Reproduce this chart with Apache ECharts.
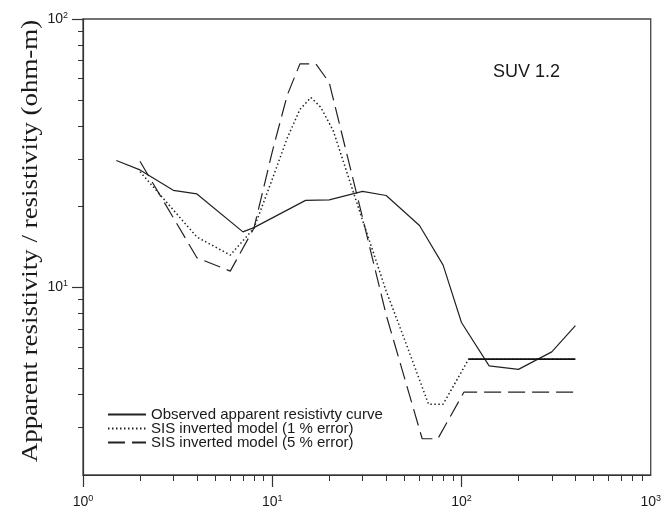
<!DOCTYPE html>
<html>
<head>
<meta charset="utf-8">
<script src="https://cdn.jsdelivr.net/npm/echarts@6/dist/echarts.min.js"></script>
<style>
html,body{margin:0;padding:0;background:#fff;}
#chart{width:664px;height:510px;}
</style>
</head>
<body>
<div id="chart"></div>
<script>
// ---- data ----
const obsX = [1.5, 2, 3, 4, 7, 8, 15, 20, 30, 40, 60, 80, 100, 140, 200, 300, 400];
const obsY = [29.7, 27.4, 23.0, 22.3, 16.1, 16.7, 21.1, 21.2, 22.8, 22.0, 17.0, 12.1, 7.4, 5.1, 4.95, 5.75, 7.2];

const dotX = [2, 4, 6, 8, 10, 12, 14, 16, 18, 21, 30, 40, 50, 67, 80, 109, 400];
const dotY = [27, 15.4, 13.2, 16.6, 25.3, 36, 46, 51, 47, 38.4, 17.8, 9.7, 6.4, 3.67, 3.67, 5.4, 5.4];

const dashX = [2, 4, 6, 8, 10, 12, 14, 17, 20, 30, 40, 50, 62, 75, 103, 400];
const dashY = [29.5, 12.9, 11.5, 16.6, 32, 52, 68, 68, 58, 18.2, 7.9, 4.6, 2.73, 2.73, 4.07, 4.07];

const seriesNames = ['Observed apparent resistivty curve', 'SIS inverted model (1 % error)', 'SIS inverted model (5 % error)'];
const yTitle = 'Apparent resistivity / resistivity (ohm-m)';
const panelLabel = 'SUV 1.2';

const xRange = [1, 1000];
const yRange = [2, 100];
const xMajorTicks = [1, 10, 100];
const xLabelValues = [1, 10, 100, 1000];
const xMinorTicks = [2,3,4,5,6,7,8,9,20,30,40,50,60,70,80,90,200,300,400,500,600,700,800,900];
const yMajorTicks = [10, 100];
const yLabelValues = [10, 100];
const yMinorTicks = [3,4,5,6,7,8,9,20,30,40,50,60,70,80,90];

// ---- build ----
const zip = (xs, ys) => xs.map((x, i) => [x, ys[i]]);
const lg = a => a.map(v => Math.log10(v));
const ink = '#1a1a1a';
const axisInk = '#333';
const supFmt = v => '{b|10}{s|' + Math.round(v) + '}';
const labelRich = {
  b: {fontFamily: 'Liberation Sans', fontSize: 14, color: ink, lineHeight: 16},
  s: {fontFamily: 'Liberation Sans', fontSize: 9, color: ink, lineHeight: 9, verticalAlign: 'top'}
};

// Tick / label axes use the exponent (log10) scale so they line up with the log data axes.
function tickAxis(range, pos, ticks, len, width, labels, margin, lineShow) {
  return {
    type: 'value', min: Math.log10(range[0]), max: Math.log10(range[1]), position: pos,
    axisLine: {show: lineShow, lineStyle: {color: axisInk, width: 1.2}},
    axisTick: {show: true, customValues: lg(ticks), length: len, lineStyle: {color: axisInk, width: width}},
    axisLabel: labels ? {show: true, customValues: lg(labels), margin: margin, formatter: supFmt, rich: labelRich} : {show: false},
    splitLine: {show: false}
  };
}

const chart = echarts.init(document.getElementById('chart'), null, {renderer: 'canvas'});
const option = {
  backgroundColor: '#fff',
  animation: false,
  title: {
    text: panelLabel, left: 488, top: 58,
    textStyle: {fontFamily: 'Liberation Sans', fontSize: 18, fontWeight: 'normal', color: ink}
  },
  grid: {left: 83, right: 4, top: 19, bottom: 35, show: true, borderColor: '#444', borderWidth: 1.3, backgroundColor: 'transparent'},
  xAxis: [
    {type: 'log', logBase: 10, min: xRange[0], max: xRange[1], position: 'bottom', show: false},
    tickAxis(xRange, 'bottom', xMajorTicks, 12, 1.2, xLabelValues, 19, true),
    tickAxis(xRange, 'bottom', xMinorTicks, 6, 1, null, 0, false)
  ],
  yAxis: [
    {type: 'log', logBase: 10, min: yRange[0], max: yRange[1], position: 'left', show: false},
    tickAxis(yRange, 'left', yMajorTicks, 11, 1.2, yLabelValues, 15, true),
    tickAxis(yRange, 'left', yMinorTicks, 5, 1, null, 0, false)
  ],
  legend: {
    orient: 'vertical', left: 102, top: 402,
    itemWidth: 38, itemHeight: 10, itemGap: -1,
    data: seriesNames,
    itemStyle: {opacity: 0, borderWidth: 0},
    textStyle: {fontFamily: 'Liberation Sans', fontSize: 15, color: ink, lineHeight: 13}
  },
  series: [
    {
      name: seriesNames[0], type: 'line', data: zip(obsX, obsY), xAxisIndex: 0, yAxisIndex: 0,
      showSymbol: false, symbol: 'none',
      lineStyle: {color: '#222', width: 1.2, type: 'solid'}, itemStyle: {color: '#222'}
    },
    {
      name: seriesNames[1], type: 'line', data: zip(dotX, dotY), xAxisIndex: 0, yAxisIndex: 0,
      showSymbol: false, symbol: 'none',
      lineStyle: {color: '#222', width: 1.5, type: [1.5, 2.5]}, itemStyle: {color: '#222'}
    },
    {
      name: 'tail', type: 'line', data: zip(dotX.slice(-2), dotY.slice(-2)), xAxisIndex: 0, yAxisIndex: 0,
      showSymbol: false, symbol: 'none',
      lineStyle: {color: '#111', width: 1.8, type: 'solid'}
    },
    {
      name: seriesNames[2], type: 'line', data: zip(dashX, dashY), xAxisIndex: 0, yAxisIndex: 0,
      showSymbol: false, symbol: 'none',
      lineStyle: {color: '#222', width: 1.2, type: [17, 7]}, itemStyle: {color: '#222'}
    }
  ],
  graphic: [
    {
      type: 'text', x: 31, y: 241, rotation: Math.PI / 2, scaleX: 1.17,
      style: {text: yTitle, font: '23px "Liberation Serif"', fill: ink, align: 'center', verticalAlign: 'middle'}
    }
  ]
};
chart.setOption(option);
</script>
</body>
</html>
